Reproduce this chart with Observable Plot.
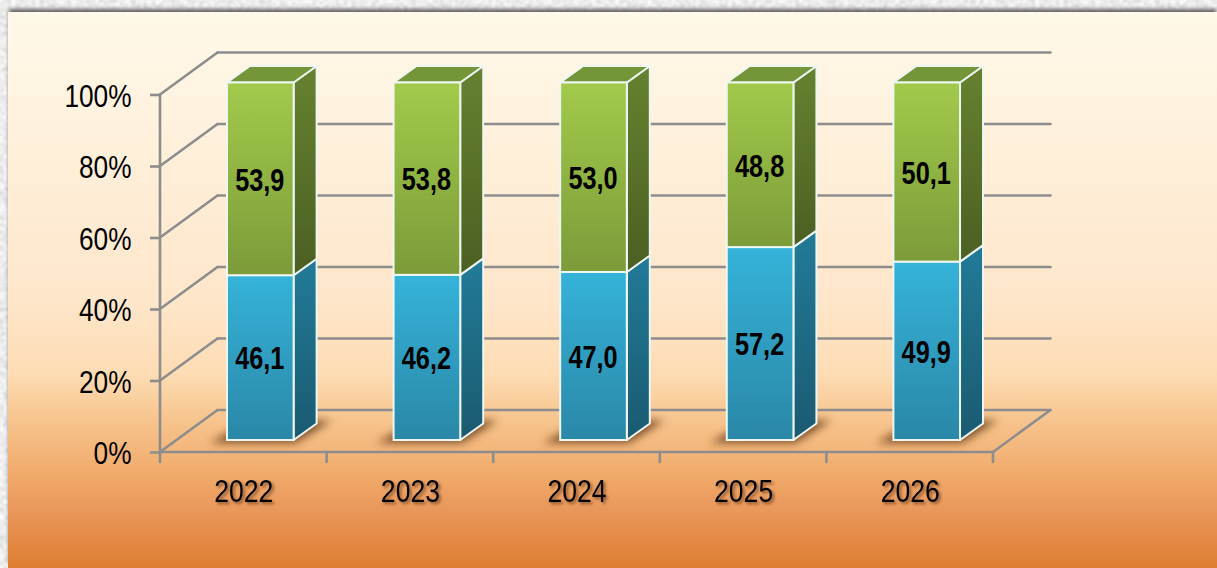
<!DOCTYPE html>
<html>
<head>
<meta charset="utf-8">
<script src="https://cdn.jsdelivr.net/npm/d3@7"></script>
<script src="https://cdn.jsdelivr.net/npm/@observablehq/plot@0.6"></script>
<style>
html,body{margin:0;padding:0;width:1217px;height:568px;overflow:hidden;}
#stone{position:absolute;left:0;top:0;width:1217px;height:568px;background-color:#d6d6d6;
background-image:url("data:image/svg+xml;utf8,<svg xmlns='http://www.w3.org/2000/svg' width='1217' height='568'><filter id='n'><feTurbulence type='fractalNoise' baseFrequency='0.25' numOctaves='3' seed='4'/><feColorMatrix values='0.7 0 0 0 0.5  0.7 0 0 0 0.5  0.7 0 0 0 0.5  0 0 0 0 1'/><feGaussianBlur stdDeviation='0.8'/></filter><rect width='1217' height='568' filter='url(%23n)'/></svg>");}
#panel{position:absolute;left:8px;top:12px;right:0;bottom:0;box-shadow:0 -4px 4px -1px rgba(60,60,60,.8);
background:linear-gradient(180deg,#fff9ea 0%,#fff3e0 16%,#fee6ca 52%,#fddcb4 65%,#f8c893 72%,#f0a868 84%,#e9965a 90%,#de7d30 100%);}
#chart{position:absolute;left:0;top:0;}
svg{display:block;}
g[aria-label="x-axis tick label"]{filter:drop-shadow(2px 2px 1.5px rgba(90,50,20,.7));}
</style>
</head>
<body>
<div id="stone"></div>
<div id="panel"></div>
<div id="chart"></div>
<script>
const years = ["2022","2023","2024","2025","2026"];
const blueValues = [46.1,46.2,47.0,57.2,49.9];
const greenValues = [53.9,53.8,53.0,48.8,50.1];
const percentTicks = [0,0.2,0.4,0.6,0.8,1];

const rows = [
  ...years.map((year,i)=>({year,series:"blue",value:blueValues[i]})),
  ...years.map((year,i)=>({year,series:"green",value:greenValues[i]}))
];

const font = "'Liberation Sans',Arial,sans-serif";
const wall = {dx:57.5,dy:-42};    // depth of the chart floor
const bar = {dx:17,dy:-12};       // bars stand mid-floor
const side = {dx:23,dy:-16.5};    // depth of each bar
const gridColor = "#8d8d8d";
const edgeColor = "#eef6f2";

const svgGroup = () => d3.create("svg:g");
function poly(g,pts,attrs){
  const p = g.append("polygon").attr("points",pts.map(d=>d.join(",")).join(" "));
  for(const k in attrs) p.attr(k,attrs[k]);
  return p;
}
function gradient(defs,id,a,b){
  const g = defs.append("linearGradient").attr("id",id).attr("x1",0).attr("y1",0).attr("x2",0).attr("y2",1);
  g.append("stop").attr("offset","0%").attr("stop-color",a);
  g.append("stop").attr("offset","100%").attr("stop-color",b);
}

// Walls, floor, shadows (drawn behind the bars)
function frame(index,scales){
  const {x,y} = scales;
  const g = svgGroup();
  const defs = g.append("defs");
  gradient(defs,"gFront","#a2ca4b","#7c9b39");
  gradient(defs,"bFront","#35b3d9","#2a87a7");
  gradient(defs,"gSide","#668230","#4b5f22");
  gradient(defs,"bSide","#227b98","#1a5a70");
  defs.append("filter").attr("id","blur").attr("x","-30%").attr("y","-80%").attr("width","160%").attr("height","260%")
    .append("feGaussianBlur").attr("stdDeviation",4);
  const step = x.step(), first = x(years[0]) - step*0.3, last = first + step*years.length;
  const line = (a,b)=>g.append("line").attr("x1",a[0]).attr("y1",a[1]).attr("x2",b[0]).attr("y2",b[1])
    .attr("stroke",gridColor).attr("stroke-width",2.6).attr("stroke-linecap","round");
  for(const t of percentTicks){
    const py = y(t);
    line([first,py],[first+wall.dx,py+wall.dy]);
    line([first+wall.dx,py+wall.dy],[last+wall.dx,py+wall.dy]);
  }
  line([first,y(0)],[first,y(1)]);
  line([first,y(0)],[last,y(0)]);
  line([last,y(0)],[last+wall.dx,y(0)+wall.dy]);
  for(let i=0;i<=years.length;i++){
    const px = first+i*step;
    line([px,y(0)],[px,y(0)+10]);
  }
  for(const yr of years){
    const l = x(yr)+bar.dx, r = l+x.bandwidth(), b = y(0)+bar.dy;
    poly(g,[[l-17,b+3],[r+2,b+3],[r+side.dx+15,b+side.dy-3],[l+side.dx,b+side.dy-3]],
      {fill:"#6a3c18","fill-opacity":0.85,filter:"url(#blur)"});
  }
  return g.node();
}

// Side and top faces of every bar
function faces(index,scales){
  const {x,y} = scales;
  const g = svgGroup();
  years.forEach((yr,i)=>{
    const share = blueValues[i]/(blueValues[i]+greenValues[i]);
    const l = x(yr)+bar.dx, r = l+x.bandwidth();
    const y0 = y(0)+bar.dy, yM = y(share)+bar.dy, y1 = y(1)+bar.dy;
    const edge = {stroke:edgeColor,"stroke-width":2,"stroke-linejoin":"round"};
    const seg = (a,b,fill)=>poly(g,[[r,a],[r+side.dx,a+side.dy],[r+side.dx,b+side.dy],[r,b]],{fill,...edge});
    seg(y0,yM,"url(#bSide)");
    seg(yM,y1,"url(#gSide)");
    poly(g,[[l,y1],[r,y1],[r+side.dx,y1+side.dy],[l+side.dx,y1+side.dy]],{fill:"#749538",...edge});
  });
  return g.node();
}

const chart = Plot.plot({
  width:1217,height:568,
  marginLeft:160,marginRight:224,marginTop:94.5,marginBottom:116,
  style:{background:"transparent",fontFamily:font,color:"#000",overflow:"visible"},
  x:{domain:years,paddingInner:0.6,paddingOuter:0.3,round:false,label:null},
  y:{domain:[0,1],label:null},
  color:{type:"identity"},
  marks:[
    frame,
    Plot.axisY({ticks:percentTicks,tickFormat:d3.format(".0%"),tickSize:10,tickPadding:19,
      stroke:gridColor,strokeWidth:2.6,fontSize:32,label:null,fontFamily:font}),
    Plot.axisX({tickSize:0,tickPadding:27,fontSize:32,label:null,fontFamily:font}),
    faces,
    Plot.barY(rows,Plot.stackY({offset:"normalize"},{x:"year",y:"value",z:"series",
      fill:d=>d.series==="blue"?"url(#bFront)":"url(#gFront)",
      stroke:edgeColor,strokeWidth:2,dx:bar.dx,dy:bar.dy})),
    Plot.text(rows,Plot.stackY({offset:"normalize"},{x:"year",y:"value",z:"series",
      text:d=>d.value.toFixed(1).replace(".",","),
      fill:"#000",stroke:null,fontSize:32,fontWeight:"bold",fontFamily:font,dx:16,dy:-11}))
  ]
});
document.getElementById("chart").appendChild(chart);

// The reference's type is horizontally condensed: squeeze each text to match.
function squeeze(selector,factor,baseline){
  chart.querySelectorAll(selector+" text").forEach(t=>{
    t.setAttribute("textLength",(t.getComputedTextLength()*factor).toFixed(1));
    t.setAttribute("lengthAdjust","spacingAndGlyphs");
    if(baseline) t.setAttribute("y",baseline);
  });
}
squeeze('g[aria-label="y-axis tick label"]',0.82,11.7);
squeeze('g[aria-label="x-axis tick label"]',0.83);
squeeze('g[aria-label="text"]',0.79);
</script>
</body>
</html>
